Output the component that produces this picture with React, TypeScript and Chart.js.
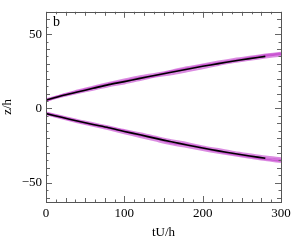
import React, { useEffect, useRef } from "react";
import { Chart, registerables } from "chart.js";

Chart.register(...registerables);

const tGrid = [0, 20, 40, 60, 80, 100, 120, 140, 160, 180, 200, 220, 240, 260, 280, 300];

const upperMean = [5.5, 8.5, 11, 13.5, 16, 18, 20.2, 22.3, 24.3, 26.3, 28.3, 30.1, 31.9, 33.5, 35.0];
const upperRun1 = [5.0, 8.9, 11.8, 14.4, 16.9, 19.2, 21.4, 23.2, 25.2, 27.5, 29.3, 31.3, 33.1, 34.6, 36.0, 37.3];
const upperRun2 = [5.5, 8.1, 10.5, 12.8, 15.1, 17.0, 19.3, 21.7, 23.2, 25.2, 27.2, 29.4, 31.4, 32.9, 34.4, 35.7];
const upperRun3 = [6.0, 8.6, 11.2, 13.7, 16.3, 18.3, 20.4, 22.0, 24.8, 26.6, 28.8, 30.4, 32.0, 33.9, 35.5, 36.8];

const lowerMean = [-3.5, -6, -8.5, -10.8, -13, -15.5, -17.8, -20.2, -22.5, -24.6, -26.7, -28.6, -30.4, -32, -33.6];
const lowerRun1 = [-3.0, -5.5, -8.0, -10.2, -12.4, -14.8, -16.9, -19.3, -21.6, -23.5, -25.8, -27.6, -29.5, -31.1, -32.6, -33.8];
const lowerRun2 = [-3.8, -6.5, -9.1, -11.5, -13.9, -16.5, -19.0, -21.5, -23.9, -25.8, -27.8, -29.7, -31.4, -33.0, -34.6, -35.9];
const lowerRun3 = [-3.4, -6.0, -8.6, -10.9, -13.1, -15.3, -18.0, -20.0, -22.9, -24.5, -26.6, -28.8, -30.7, -32.3, -33.9, -35.0];

const xTickLabels = [0, 100, 200, 300];
const yTickLabels = [-50, 0, 50];
const panelLabel = "b";
const xTitle = "tU/h";
const yTitle = "z/h";

const toPts = (ys: number[]) => ys.map((y, i) => ({ x: tGrid[i], y }));

const FONT = "'Liberation Serif', 'DejaVu Serif', serif";

const framePlugin = {
  id: "frameTicks",
  afterDatasetsDraw(chart: any) {
    const { ctx, chartArea, scales } = chart;
    const { left, right, top, bottom } = chartArea;
    const xs = scales.x;
    const ys = scales.y;
    ctx.save();
    ctx.strokeStyle = "#666";
    ctx.lineWidth = 1;
    for (let v = 0; v <= 300.001; v += 12.5) {
      const px = Math.round(xs.getPixelForValue(v)) + 0.5;
      const len = v % 100 === 0 ? 6 : v % 25 === 0 ? 4 : 2.5;
      ctx.beginPath();
      ctx.moveTo(px, bottom);
      ctx.lineTo(px, bottom - len);
      ctx.moveTo(px, top);
      ctx.lineTo(px, top + len);
      ctx.stroke();
    }
    for (let v = -60; v <= 65; v += 5) {
      const py = Math.round(ys.getPixelForValue(v)) + 0.5;
      const len = v % 50 === 0 ? 6 : v % 10 === 0 ? 4 : 2.5;
      ctx.beginPath();
      ctx.moveTo(left, py);
      ctx.lineTo(left + len, py);
      ctx.moveTo(right, py);
      ctx.lineTo(right - len, py);
      ctx.stroke();
    }
    ctx.strokeStyle = "#555";
    ctx.strokeRect(Math.round(left) + 0.5, Math.round(top) + 0.5, Math.round(right - left), Math.round(bottom - top));
    ctx.fillStyle = "#000";
    ctx.font = "14px " + FONT;
    ctx.textBaseline = "middle";
    ctx.textAlign = "left";
    ctx.fillText(panelLabel, left + 7, top + 11);
    ctx.restore();
  },
};

export default function App() {
  const ref = useRef<HTMLCanvasElement>(null);
  useEffect(() => {
    if (!ref.current) return;
    const magenta = "rgba(190, 45, 200, 0.55)";
    const runStyle = {
      borderColor: magenta,
      borderWidth: 2.6,
      pointRadius: 0,
      tension: 0.3,
      fill: false,
      order: 1,
    };
    const meanStyle = {
      borderColor: "#000",
      borderWidth: 1.6,
      pointRadius: 0,
      tension: 0.3,
      fill: false,
      order: 0,
    };
    const chart = new Chart(ref.current, {
      type: "line",
      data: {
        datasets: [
          { ...meanStyle, data: toPts(upperMean) },
          { ...meanStyle, data: toPts(lowerMean) },
          { ...runStyle, data: toPts(upperRun1) },
          { ...runStyle, data: toPts(upperRun2) },
          { ...runStyle, data: toPts(upperRun3) },
          { ...runStyle, data: toPts(lowerRun1) },
          { ...runStyle, data: toPts(lowerRun2) },
          { ...runStyle, data: toPts(lowerRun3) },
        ],
      },
      options: {
        animation: false,
        responsive: false,
        maintainAspectRatio: false,
        layout: { padding: { top: 6, right: 15, left: 0, bottom: 0 } },
        plugins: { legend: { display: false }, tooltip: { enabled: false } },
        scales: {
          x: {
            type: "linear",
            min: 0,
            max: 300,
            afterBuildTicks: (s: any) => {
              s.ticks = xTickLabels.map((v) => ({ value: v }));
            },
            afterFit: (s: any) => {
              s.height = 39;
            },
            grid: { display: false, drawTicks: false },
            border: { display: false },
            ticks: {
              padding: 4,
              maxRotation: 0,
              color: "#000",
              font: { family: FONT, size: 13 },
              callback: (v: any) => (v < 0 ? "\u2212" + Math.abs(v) : String(v)),
            },
            title: {
              display: true,
              text: xTitle,
              color: "#000",
              font: { family: FONT, size: 13 },
              padding: { top: 0, bottom: 1 },
            },
          },
          y: {
            type: "linear",
            min: -63,
            max: 65,
            afterBuildTicks: (s: any) => {
              s.ticks = yTickLabels.map((v) => ({ value: v }));
            },
            afterFit: (s: any) => {
              s.width = 46;
            },
            grid: { display: false, drawTicks: false },
            border: { display: false },
            ticks: {
              padding: 4,
              color: "#000",
              font: { family: FONT, size: 13 },
              callback: (v: any) => (v < 0 ? "\u2212" + Math.abs(v) : String(v)),
            },
            title: {
              display: true,
              text: yTitle,
              color: "#000",
              font: { family: FONT, size: 13 },
              padding: { top: 0, bottom: 0 },
            },
          },
        },
      },
      plugins: [framePlugin],
    } as any);
    return () => chart.destroy();
  }, []);
  return (
    <div style={{ position: "absolute", left: 0, top: 0, width: 296, height: 241, background: "#fff" }}>
      <canvas ref={ref} width={296} height={241} style={{ width: 296, height: 241 }} />
    </div>
  );
}
